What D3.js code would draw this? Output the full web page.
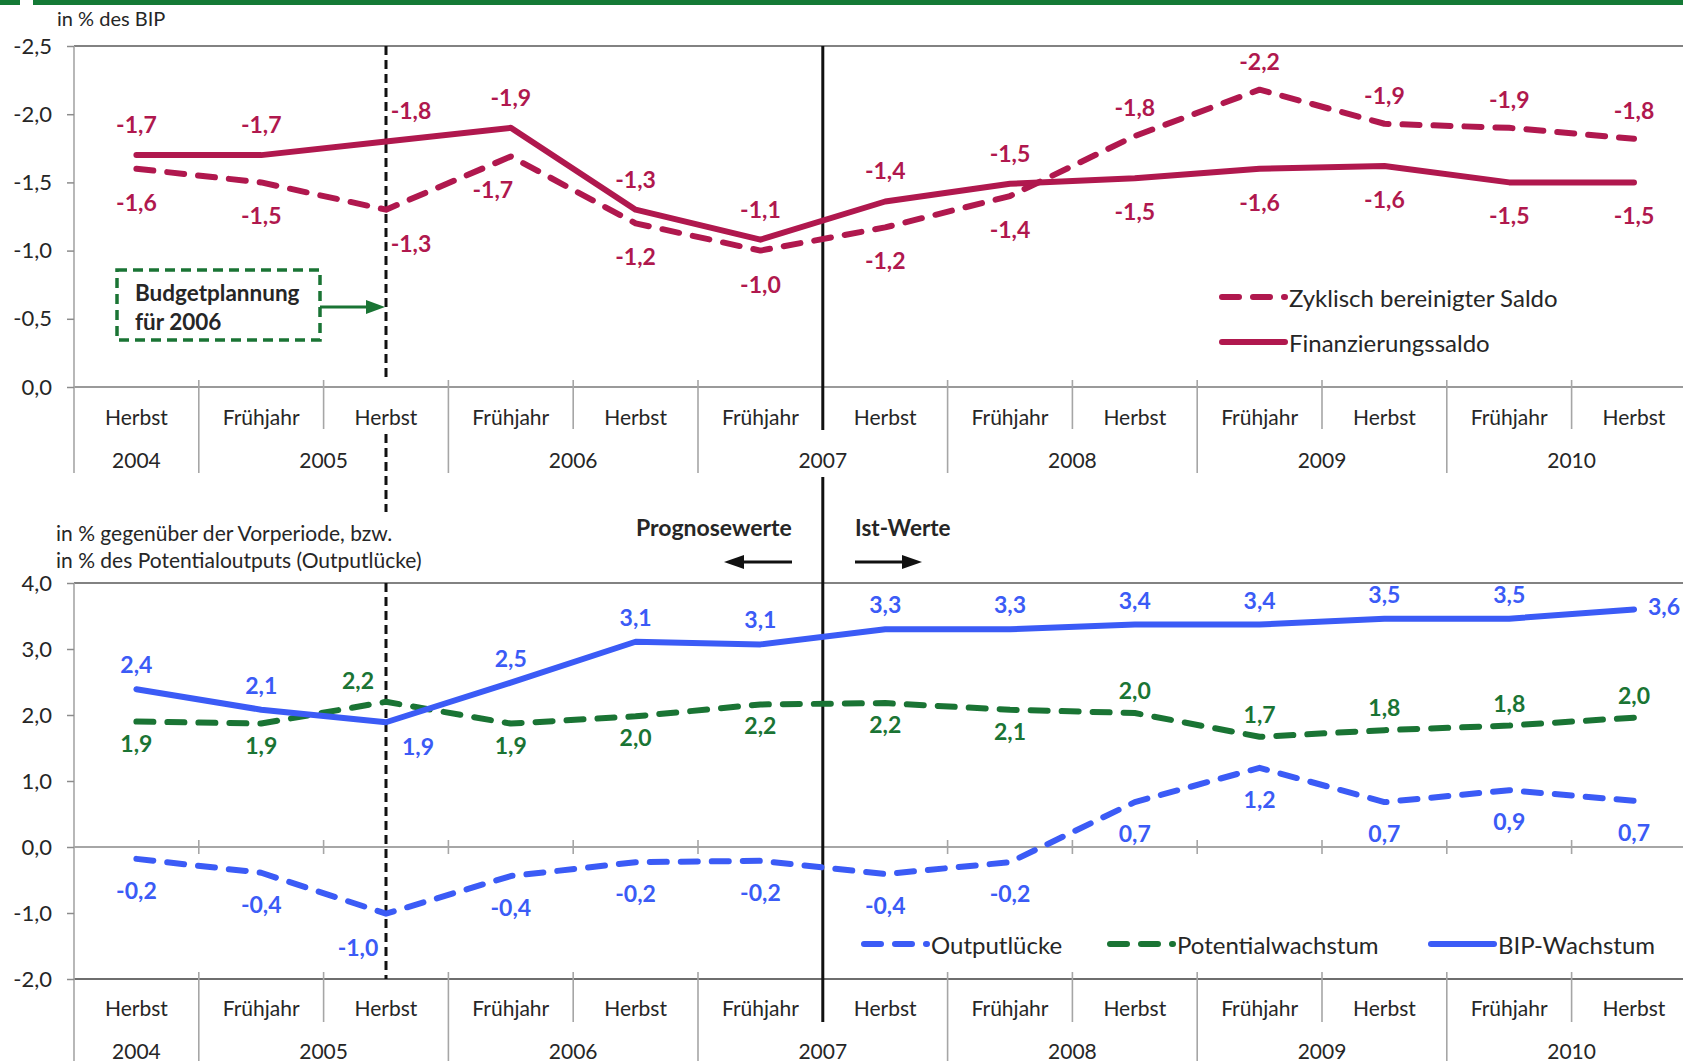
<!DOCTYPE html>
<html><head><meta charset="utf-8">
<script src="https://cdn.jsdelivr.net/npm/d3@7"></script>
<style>
body{margin:0;background:#fff}
svg{display:block}
text{font-family:Lato,"Open Sans",sans-serif;fill:#262626}
</style>
</head><body>
<svg id="c" width="1683" height="1061"></svg>
<script>
// ---------- DATA ----------
const quarters = ["Herbst","Frühjahr","Herbst","Frühjahr","Herbst","Frühjahr","Herbst","Frühjahr","Herbst","Frühjahr","Herbst","Frühjahr","Herbst"];
const yearLabels = ["2004","2005","2006","2007","2008","2009","2010"];
const yearSpans = [1,2,2,2,2,2,2];

const finanzierungssaldo = [-1.7,-1.7,-1.8,-1.9,-1.3,-1.08,-1.36,-1.49,-1.53,-1.6,-1.62,-1.5,-1.5];
const zyklischSaldo      = [-1.6,-1.5,-1.3,-1.69,-1.2,-1.0,-1.17,-1.4,-1.84,-2.18,-1.93,-1.9,-1.82];

const bipWachstum        = [2.39,2.08,1.89,2.49,3.11,3.07,3.3,3.3,3.37,3.37,3.46,3.46,3.6];
const potentialWachstum  = [1.9,1.87,2.2,1.87,1.98,2.16,2.18,2.08,2.03,1.67,1.77,1.84,1.96];
const outputLuecke       = [-0.18,-0.39,-1.01,-0.44,-0.23,-0.21,-0.41,-0.23,0.68,1.2,0.68,0.86,0.7];

const topTicks = [0,-0.5,-1,-1.5,-2,-2.5];
const bottomTicks = [-2,-1,0,1,2,3,4];

// ---------- STYLE ----------
const C_MAG = "#B0184E", C_BLUE = "#3B5BF6", C_GREEN = "#1A7434", C_TEXT = "#262626";
const fmt = v => v.toFixed(1).replace(".", ",");

const svg = d3.select("#c");
const W = 1683;

// top green bar
svg.append("rect").attr("x",0).attr("y",0).attr("width",20).attr("height",5).attr("fill","#147A36");
svg.append("rect").attr("x",33).attr("y",0).attr("width",W-33).attr("height",5).attr("fill","#147A36");

const x = d3.scaleBand().domain(d3.range(quarters.length)).range([74, 74 + 13*124.8]).padding(0);
const bw = x.bandwidth();
const cx = i => x(i) + bw/2;
const boundary = k => 74 + k*bw;

const yTop = d3.scaleLinear().domain([0,-2.5]).range([387,46]);
const yBot = d3.scaleLinear().domain([-2,4]).range([979,583]);

function yAxis(g, scale){
  const ax = d3.axisLeft(scale).tickValues(scale === yTop ? topTicks : bottomTicks)
    .tickSize(7).tickPadding(15).tickFormat(fmt);
  g.call(ax);
  g.select(".domain").remove();
  g.selectAll(".tick line").attr("stroke","#8c8c8c").attr("stroke-width",1.5);
  g.selectAll(".tick text").style("font-family","Lato").style("font-size","22px").attr("fill",C_TEXT);
}

// year boundaries
const yearBounds = [0];
yearSpans.forEach(s => yearBounds.push(yearBounds[yearBounds.length-1] + s));

function categoryAxis(axisY, shortEnd, longEnd, qY, yY, topStart){
  const g = svg.append("g");
  g.append("line").attr("x1",74).attr("x2",W).attr("y1",axisY).attr("y2",axisY)
    .attr("stroke",axisY>900?"#6e6e6e":"#9a9a9a").attr("stroke-width",1.8);
  for(let k=0;k<=13;k++){
    const isYear = yearBounds.includes(k);
    const x0 = boundary(k);
    if (x0 > W) continue;
    g.append("line").attr("x1",x0).attr("x2",x0)
      .attr("y1", k===0 ? topStart : axisY-7).attr("y2", isYear ? longEnd : shortEnd)
      .attr("stroke","#a6a6a6").attr("stroke-width",1.6);
  }
  quarters.forEach((q,i)=>{
    g.append("text").attr("x",cx(i)).attr("y",qY).attr("text-anchor","middle")
      .attr("dominant-baseline","central").style("font-size","21px").text(q);
  });
  yearLabels.forEach((yl,j)=>{
    const xm = (boundary(yearBounds[j]) + boundary(yearBounds[j+1]))/2;
    g.append("text").attr("x",xm).attr("y",yY).attr("text-anchor","middle")
      .attr("dominant-baseline","central").style("font-size","21px").text(yl);
  });
}

// ---------- TOP CHART ----------
svg.append("line").attr("x1",74).attr("x2",W).attr("y1",46).attr("y2",46).attr("stroke","#595959").attr("stroke-width",1.5);
categoryAxis(387, 429, 473, 416, 459, 46);
svg.append("g").attr("transform","translate(74,0)").call(g=>yAxis(g,yTop));
svg.append("text").attr("x",57).attr("y",18).attr("dominant-baseline","central").style("font-size","20px").text("in % des BIP");

// vertical markers top
const xDash = cx(2), xSolid = boundary(6);
[[46,382],[434,512]].forEach(([a,b])=>svg.append("line").attr("x1",xDash).attr("x2",xDash).attr("y1",a).attr("y2",b)
  .attr("stroke","#111").attr("stroke-width",3).attr("stroke-dasharray","9,5"));
svg.append("line").attr("x1",xSolid).attr("x2",xSolid).attr("y1",46).attr("y2",430).attr("stroke","#111").attr("stroke-width",3);

const lineTop = d3.line().x((d,i)=>cx(i)).y(d=>yTop(d));
svg.append("path").datum(zyklischSaldo).attr("d",lineTop).attr("fill","none").attr("stroke",C_MAG)
  .attr("stroke-width",6).attr("stroke-dasharray","17,14").attr("stroke-linecap","round").attr("stroke-linejoin","round");
svg.append("path").datum(finanzierungssaldo).attr("d",lineTop).attr("fill","none").attr("stroke",C_MAG)
  .attr("stroke-width",6).attr("stroke-linejoin","round").attr("stroke-linecap","round");

function label(xp, yp, txt, color){
  svg.append("text").attr("x",xp).attr("y",yp).attr("text-anchor","middle").attr("dominant-baseline","central")
    .style("font-size","23px").style("font-weight","bold").style("fill",color).text(txt);
}
finanzierungssaldo.forEach((v,i)=>{
  const z = zyklischSaldo[i];
  const up = v <= z; // more negative is higher
  const dx = i===2 ? 25 : 0;
  label(cx(i)+dx, yTop(v) + (up?-31:33), fmt(v), C_MAG);
  const dxz = i===2 ? 25 : (i===3 ? -18 : 0);
  label(cx(i)+dxz, yTop(z) + (up?33:-29), fmt(z), C_MAG);
});

// budget box
svg.append("rect").attr("x",117).attr("y",270).attr("width",203).attr("height",70).attr("fill","none")
  .attr("stroke",C_GREEN).attr("stroke-width",3.5).attr("stroke-dasharray","10,6");
svg.append("text").attr("x",135).attr("y",292).attr("dominant-baseline","central").style("font-size","22.5px").style("font-weight","bold").text("Budgetplannung");
svg.append("text").attr("x",135).attr("y",321).attr("dominant-baseline","central").style("font-size","22.5px").style("font-weight","bold").text("für 2006");
svg.append("line").attr("x1",320).attr("x2",368).attr("y1",307).attr("y2",307).attr("stroke",C_GREEN).attr("stroke-width",3);
svg.append("path").attr("d",`M${xDash-1},307 L${xDash-20},300 L${xDash-20},314 Z`).attr("fill",C_GREEN);

// legend
function legendItem(x0, y0, color, dashed, txt){
  svg.append("line").attr("x1",x0+3).attr("x2",x0+66).attr("y1",y0).attr("y2",y0).attr("stroke",color)
    .attr("stroke-width",6).attr("stroke-linecap","round")
    .attr("stroke-dasharray", dashed ? "17,14" : null);
  svg.append("text").attr("x",x0+70).attr("y",y0).attr("dominant-baseline","central").style("font-size","24px").text(txt);
}
legendItem(1219, 297, C_MAG, true, "Zyklisch bereinigter Saldo");
legendItem(1219, 342, C_MAG, false, "Finanzierungssaldo");

// ---------- BOTTOM CHART ----------
svg.append("text").attr("x",56).attr("y",532).attr("dominant-baseline","central").style("font-size","21px").text("in % gegenüber der Vorperiode, bzw.");
svg.append("text").attr("x",56).attr("y",559).attr("dominant-baseline","central").style("font-size","21px").text("in % des Potentialoutputs (Outputlücke)");

svg.append("line").attr("x1",74).attr("x2",W).attr("y1",583).attr("y2",583).attr("stroke","#595959").attr("stroke-width",1.5);
svg.append("line").attr("x1",74).attr("x2",W).attr("y1",yBot(0)).attr("y2",yBot(0)).attr("stroke","#a6a6a6").attr("stroke-width",1.8);
for(let k=1;k<13;k++){
  svg.append("line").attr("x1",boundary(k)).attr("x2",boundary(k)).attr("y1",yBot(0)-7).attr("y2",yBot(0)+7)
    .attr("stroke","#a6a6a6").attr("stroke-width",1.6);
}
categoryAxis(979, 1022, 1061, 1007, 1050, 583);
svg.append("g").attr("transform","translate(74,0)").call(g=>yAxis(g,yBot));

svg.append("line").attr("x1",xDash).attr("x2",xDash).attr("y1",583).attr("y2",979)
  .attr("stroke","#111").attr("stroke-width",3).attr("stroke-dasharray","9,5");
svg.append("line").attr("x1",xSolid).attr("x2",xSolid).attr("y1",477).attr("y2",1022).attr("stroke","#111").attr("stroke-width",3);

// Prognose / Ist
svg.append("text").attr("x",636).attr("y",527).attr("dominant-baseline","central").style("font-size","23px").style("font-weight","bold").text("Prognosewerte");
svg.append("text").attr("x",855).attr("y",527).attr("dominant-baseline","central").style("font-size","22.5px").style("font-weight","bold").text("Ist-Werte");
svg.append("line").attr("x1",792).attr("x2",740).attr("y1",562).attr("y2",562).attr("stroke","#111").attr("stroke-width",3);
svg.append("path").attr("d","M724,562 L744,555 L744,569 Z").attr("fill","#111");
svg.append("line").attr("x1",855).attr("x2",905).attr("y1",562).attr("y2",562).attr("stroke","#111").attr("stroke-width",3);
svg.append("path").attr("d","M922,562 L902,555 L902,569 Z").attr("fill","#111");

const lineBot = d3.line().x((d,i)=>cx(i)).y(d=>yBot(d));
svg.append("path").datum(outputLuecke).attr("d",lineBot).attr("fill","none").attr("stroke",C_BLUE)
  .attr("stroke-width",6).attr("stroke-dasharray","17,14").attr("stroke-linecap","round").attr("stroke-linejoin","round");
svg.append("path").datum(potentialWachstum).attr("d",lineBot).attr("fill","none").attr("stroke",C_GREEN)
  .attr("stroke-width",6).attr("stroke-dasharray","17,14").attr("stroke-linecap","round").attr("stroke-linejoin","round");
svg.append("path").datum(bipWachstum).attr("d",lineBot).attr("fill","none").attr("stroke",C_BLUE)
  .attr("stroke-width",6).attr("stroke-linecap","round").attr("stroke-linejoin","round");

bipWachstum.forEach((v,i)=>{
  let dx=0, dy=-25;
  if(i===2){dx=32; dy=24;}
  if(i===12){dx=30; dy=-3;}
  label(cx(i)+dx, yBot(v)+dy, fmt(v), C_BLUE);
});
potentialWachstum.forEach((v,i)=>{
  let dx=0, dy= i>=8 ? -23 : 21;
  if(i===2){dx=-28; dy=-22;}
  label(cx(i)+dx, yBot(v)+dy, fmt(v), C_GREEN);
});
outputLuecke.forEach((v,i)=>{
  let dx=0, dy=31;
  if(i===2){dx=-28; dy=33;}
  label(cx(i)+dx, yBot(v)+dy, fmt(v), C_BLUE);
});

legendItem(861, 944, C_BLUE, true, "Outputlücke");
legendItem(1107, 944, C_GREEN, true, "Potentialwachstum");
legendItem(1428, 944, C_BLUE, false, "BIP-Wachstum");
</script>
</body></html>
